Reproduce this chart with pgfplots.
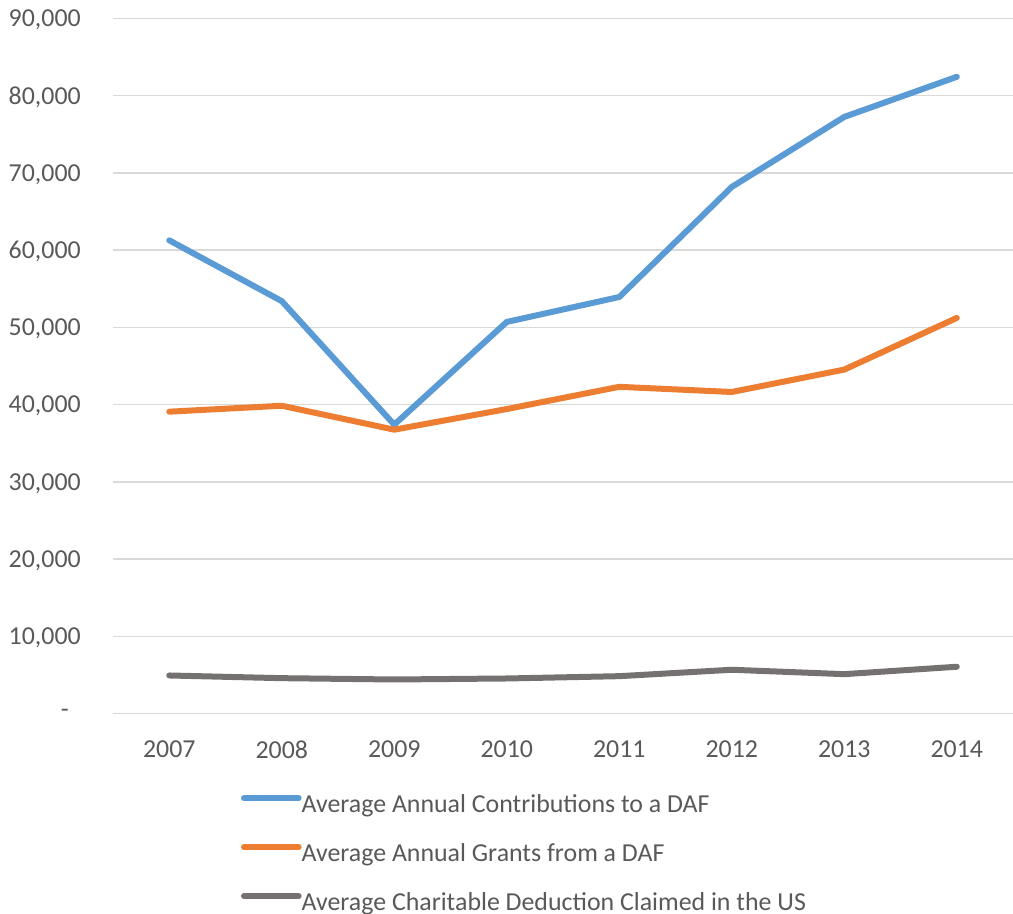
\documentclass[border=0pt]{standalone}
\usepackage{fontspec}
\setmainfont{Carlito}
\usepackage{pgfplots}
\pgfplotsset{compat=1.18}

\definecolor{daf blue}{HTML}{5B9BD5}
\definecolor{daf orange}{HTML}{ED7D31}
\definecolor{us gray}{HTML}{767171}
\definecolor{txt}{HTML}{595959}
\definecolor{gridc}{HTML}{D9D9D9}

\begin{document}
\begin{tikzpicture}
\begin{axis}[
    scale only axis,
    width=675pt,
    height=521.25pt,
    xmin=-0.5, xmax=7.5,
    ymin=0, ymax=90000,
    xtick={0,...,7},
    xticklabels={2007,2008,2009,2010,2011,2012,2013,2014},
    ytick={0,10000,...,90000},
    yticklabels={{-\hspace*{9pt}},{10,000},{20,000},{30,000},{40,000},{50,000},{60,000},{70,000},{80,000},{90,000}},
    axis line style={draw=none},
    major tick length=0pt,
    ymajorgrids,
    grid style={gridc, line width=1.1pt},
    tick label style={font=\fontsize{19.4}{22}\selectfont, text=txt},
    yticklabel style={anchor=east, inner sep=0pt, xshift=-24pt, text depth=0pt},
    xticklabel style={anchor=north, inner sep=0pt, yshift=-20pt},
    every axis plot/.append style={line width=4.5pt, line cap=round, line join=round},
    legend cell align=left,
    legend style={draw=none, fill=none, inner sep=0pt, outer sep=0pt,
        at={(axis description cs:0.1422,-0.1153)}, anchor=north west,
        font=\fontsize{19.4}{22}\selectfont, text=txt, row sep=17.75pt,
        nodes={inner sep=0pt, text height=14pt, text depth=5pt},
        /tikz/every odd column/.append style={column sep=0pt}},
    legend image code/.code={\draw[#1, line width=4.5pt, line cap=round] (0pt,6pt) -- (41pt,6pt);},
]

% contributions to a DAF
\addplot[color=daf blue] coordinates {
    (0,61270) (1,53400) (2,37400) (3,50700) (4,53930) (5,68180) (6,77250) (7,82440)
};

% grants from a DAF
\addplot[color=daf orange] coordinates {
    (0,39080) (1,39850) (2,36750) (3,39420) (4,42300) (5,41630) (6,44530) (7,51220)
};

% charitable deduction, US
\addplot[color=us gray] coordinates {
    (0,4920) (1,4570) (2,4400) (3,4530) (4,4830) (5,5660) (6,5090) (7,6050)
};

\legend{Average Annual Contributions to a DAF, Average Annual Grants from a DAF, Average Charitable Deduction Claimed in the US}

\end{axis}
\pgfresetboundingbox
\path[use as bounding box] (-84.75pt,-149.75pt) rectangle (675pt,535.1pt);
\end{tikzpicture}
\end{document}
